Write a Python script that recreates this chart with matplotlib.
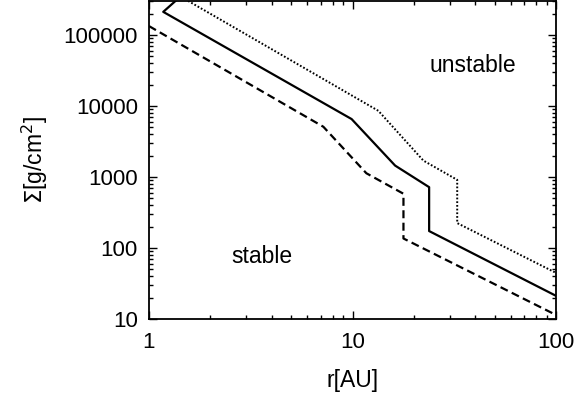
import matplotlib
matplotlib.use("Agg")
import matplotlib.pyplot as plt
from matplotlib.ticker import LogLocator, NullFormatter

plt.rcParams['font.family'] = ['Liberation Sans', 'DejaVu Sans']

# solid curve
r_solid = [1.40, 1.175, 9.9, 16.2, 23.8, 23.8, 100]
s_solid = [3.3e5, 2.11e5, 6530, 1445, 718, 173, 21.2]
# dashed curve
r_dash = [1.0, 7.19, 11.7, 17.8, 17.8, 100]
s_dash = [1.33e5, 5090, 1127, 580, 136, 11.4]
# dotted curve
r_dot = [1.5, 13.4, 22.3, 32.7, 32.7, 100]
s_dot = [3.2e5, 8530, 1699, 910, 224, 44.6]

xticks = [1, 10, 100]
xticklabels = ['1', '10', '100']
yticks = [10, 100, 1000, 10000, 100000]
yticklabels = ['10', '100', '1000', '10000', '100000']

fig = plt.figure(figsize=(5.76, 3.98), dpi=100)
ax = fig.add_axes([149/576, 1-319/398, (556-149)/576, (319-1)/398])

ax.plot(r_solid, s_solid, color='black', lw=1.6, ls='-')
ax.plot(r_dash, s_dash, color='black', lw=1.6, ls=(0, (3.6, 2.0)))
ax.plot(r_dot, s_dot, color='black', lw=1.4, ls=(0, (0.9, 1.0)))

ax.set_xscale('log')
ax.set_yscale('log')
ax.set_xlim(1, 100)
ax.set_ylim(10, 3e5)

ax.set_xticks(xticks)
ax.set_xticklabels(xticklabels)
ax.set_yticks(yticks)
ax.set_yticklabels(yticklabels)
ax.xaxis.set_minor_locator(LogLocator(base=10, subs=range(2, 10)))
ax.yaxis.set_minor_locator(LogLocator(base=10, subs=range(2, 10)))
ax.xaxis.set_minor_formatter(NullFormatter())
ax.yaxis.set_minor_formatter(NullFormatter())

ax.tick_params(which='both', direction='in', top=True, right=True, width=1.0, labelsize=16)
ax.tick_params(which='major', length=6)
ax.tick_params(axis='x', which='major', pad=9)
ax.tick_params(axis='y', which='major', pad=8)
ax.tick_params(which='minor', length=3)
for sp in ax.spines.values():
    sp.set_linewidth(1.3)

ax.set_xlabel('r[AU]', fontsize=16.5, labelpad=12)
ax.set_ylabel(r'$\Sigma$[g/cm$^2$]', fontsize=16.5, labelpad=10)
ax.text(39, 36500, 'unstable', fontsize=16.5, ha='center', va='center')
ax.text(3.58, 75, 'stable', fontsize=16.5, ha='center', va='center')

fig.savefig('out.png', dpi=100)
